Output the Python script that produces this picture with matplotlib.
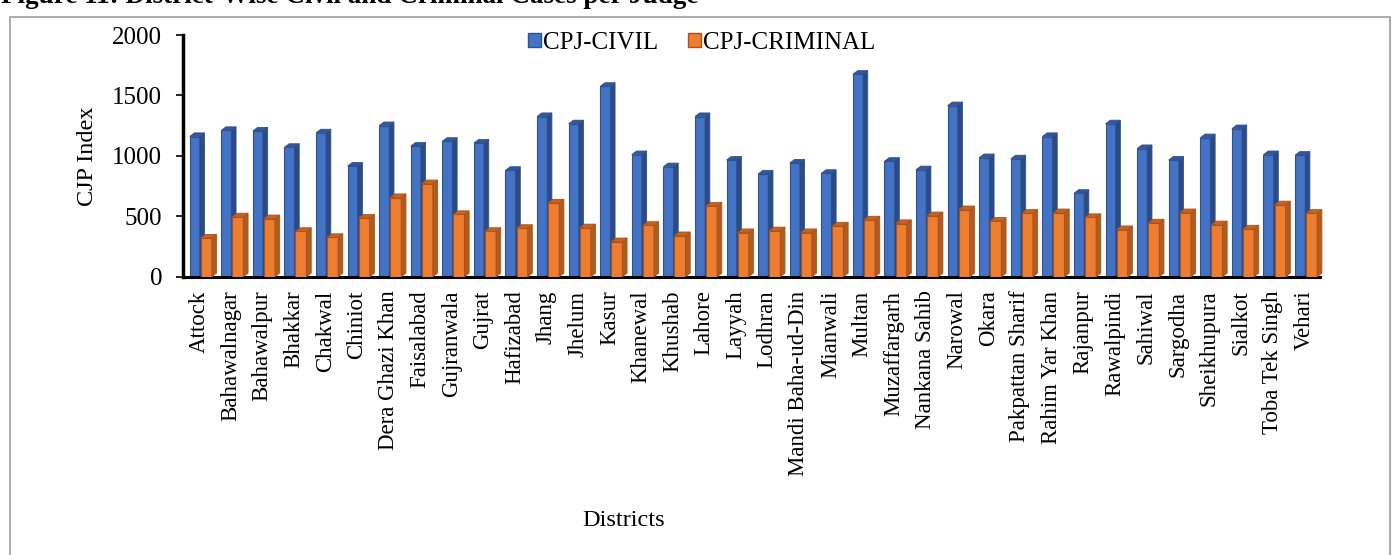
import numpy as np
import matplotlib.pyplot as plt
from matplotlib.patches import Polygon, Patch, Rectangle

plt.rcParams['font.family'] = ['Liberation Serif', 'DejaVu Serif']

districts = ['Attock', 'Bahawalnagar', 'Bahawalpur', 'Bhakkar', 'Chakwal', 'Chiniot',
             'Dera Ghazi Khan', 'Faisalabad', 'Gujranwala', 'Gujrat', 'Hafizabad', 'Jhang',
             'Jhelum', 'Kasur', 'Khanewal', 'Khushab', 'Lahore', 'Layyah', 'Lodhran',
             'Mandi Baha-ud-Din', 'Mianwali', 'Multan', 'Muzaffargarh', 'Nankana Sahib',
             'Narowal', 'Okara', 'Pakpattan Sharif', 'Rahim Yar Khan', 'Rajanpur',
             'Rawalpindi', 'Sahiwal', 'Sargodha', 'Sheikhupura', 'Sialkot',
             'Toba Tek Singh', 'Vehari']

cpj_civil = [1160, 1210, 1205, 1070, 1190, 915, 1250, 1080, 1120, 1105, 880, 1325,
             1265, 1575, 1010, 910, 1325, 965, 850, 940, 855, 1675, 955, 885,
             1415, 985, 975, 1160, 690, 1265, 1060, 965, 1150, 1225, 1010, 1005]
cpj_criminal = [320, 495, 480, 375, 325, 485, 655, 770, 515, 375, 400, 610,
                405, 290, 425, 340, 585, 365, 380, 365, 420, 470, 440, 505,
                555, 460, 525, 530, 490, 390, 445, 530, 430, 395, 595, 525]


def bars_3d(ax, xs, vals, width, front, side, top, edge, z, dx=0.15, dy=30):
    # front faces as ordinary bars, then the side and top faces as polygons
    ax.bar(xs, vals, width=width, align='edge', color=front, edgecolor=edge,
           linewidth=0.8, zorder=z)
    for x0, v in zip(xs, vals):
        x1 = x0 + width
        ax.add_patch(Polygon([(x1, 0), (x1, v), (x1 + dx, v + dy), (x1 + dx, dy)],
                             closed=True, facecolor=side, edgecolor=edge,
                             linewidth=0.6, zorder=z, clip_on=False))
        ax.add_patch(Polygon([(x0, v), (x1, v), (x1 + dx, v + dy), (x0 + dx, v + dy)],
                             closed=True, facecolor=top, edgecolor=edge,
                             linewidth=0.6, zorder=z, clip_on=False))


fig = plt.figure(figsize=(13.92, 5.55), dpi=100)
ax = fig.add_axes([183 / 1392, 1 - 276.7 / 555, (1320 - 183) / 1392, (276.7 - 35) / 555])

x = np.arange(len(districts))
bars_3d(ax, x - 0.29, cpj_civil, 0.32, '#4472C4', '#2B4A86', '#34569A', '#2F528F', 2)
bars_3d(ax, x + 0.06, cpj_criminal, 0.35, '#ED7D31', '#B35A1E', '#C8631F', '#A9531B', 3)

ax.set_xlim(-0.5, len(districts) - 0.5)
ax.set_ylim(0, 2000)
ax.set_yticks([0, 500, 1000, 1500, 2000])
ax.set_xticks(x)
ax.set_xticklabels(districts, rotation=90, fontsize=16.5)
ax.tick_params(axis='x', length=0, pad=10)
ax.tick_params(axis='y', labelsize=18, length=5, width=1.2, pad=10)
for s in ['top', 'right']:
    ax.spines[s].set_visible(False)
ax.spines['left'].set_linewidth(2.5)
ax.spines['bottom'].set_linewidth(2.2)
ax.set_ylabel('CJP Index', fontsize=17.5, labelpad=10)

fig.text(624 / 1392, 1 - 521 / 555, 'Districts', fontsize=17.5, ha='center', va='center')

handles = [Patch(facecolor='#4472C4', edgecolor='#2F528F', label='CPJ-CIVIL'),
           Patch(facecolor='#ED7D31', edgecolor='#A9531B', label='CPJ-CRIMINAL')]
fig.legend(handles=handles, loc='center', bbox_to_anchor=(702 / 1392, 1 - 43 / 555),
           ncol=2, frameon=False, fontsize=18, handlelength=0.5, handleheight=0.5,
           handletextpad=0.1, columnspacing=1.2)

# outer frame and the caption above it
fig.add_artist(Rectangle((9.5 / 1392, -0.05), (1389.5 - 9.5) / 1392, 1.05 - 17.5 / 555,
                         transform=fig.transFigure, fill=False,
                         edgecolor='#A6A6A6', linewidth=1.3))
fig.add_artist(Rectangle((1389.5 / 1392, -0.05), 1.5 / 1392, 1.05 - 17.5 / 555,
                         transform=fig.transFigure, facecolor='#A6A6A6',
                         edgecolor='none'))
fig.text(1 / 1392, 1 - 3 / 555, 'Figure 11: District-Wise Civil and Criminal Cases per Judge',
         fontsize=19.5, fontweight='bold', ha='left', va='baseline')

fig.savefig('out.png', dpi=100)
